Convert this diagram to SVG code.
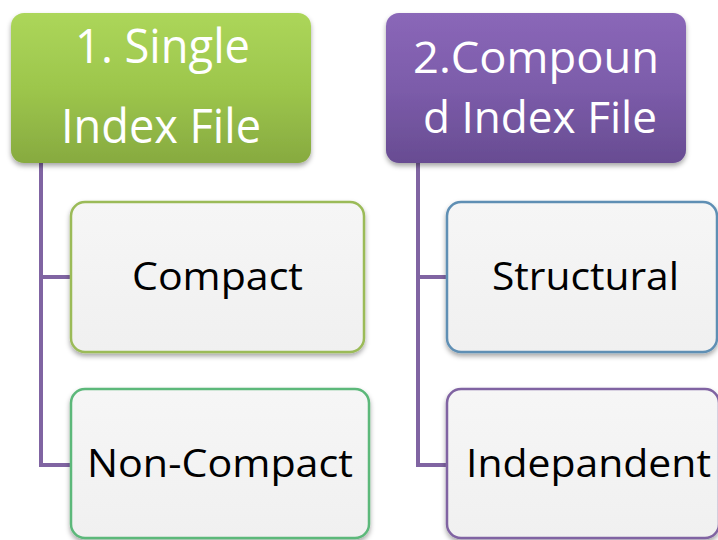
<svg xmlns="http://www.w3.org/2000/svg" width="718" height="540" viewBox="0 0 718 540">
<defs>
<linearGradient id="gGreen" x1="0" y1="0" x2="0" y2="1">
<stop offset="0" stop-color="#acd65a"/>
<stop offset="0.5" stop-color="#9dc64c"/>
<stop offset="1" stop-color="#87aa40"/>
</linearGradient>
<linearGradient id="gPurple" x1="0" y1="0" x2="0" y2="1">
<stop offset="0" stop-color="#8a67b8"/>
<stop offset="0.5" stop-color="#7c5caa"/>
<stop offset="1" stop-color="#684c92"/>
</linearGradient>
<linearGradient id="gChild" x1="0" y1="0" x2="0" y2="1">
<stop offset="0" stop-color="#f6f6f6"/>
<stop offset="1" stop-color="#f0f0f0"/>
</linearGradient>
<filter id="sh" x="-10%" y="-10%" width="120%" height="130%">
<feDropShadow dx="0" dy="3" stdDeviation="2.5" flood-color="#000" flood-opacity="0.35"/>
</filter>
</defs>
<style>
.head{font-family:"Open Sans","Noto Sans",sans-serif;fill:#ffffff;}
.child{font-family:"Open Sans","Noto Sans",sans-serif;fill:#000000;font-size:39px;}
.conn{fill:none;stroke:#8064a2;stroke-width:4;}
.box{fill:url(#gChild);stroke-width:2.5;filter:url(#sh);}
</style>
<g id="connectors">
<polyline class="conn" points="71,277 41,277"/>
<polyline class="conn" points="41,163 41,465 71,465"/>
<polyline class="conn" points="447,277 418,277"/>
<polyline class="conn" points="418,163 418,465 447,465"/>
</g>
<g id="node-single">
<rect x="11" y="13" width="300" height="150" rx="13" fill="url(#gGreen)" filter="url(#sh)"/>
<text class="head" x="75" y="63" font-size="48" textLength="175" lengthAdjust="spacingAndGlyphs">1. Single</text>
<text class="head" x="61" y="143" font-size="48" textLength="200" lengthAdjust="spacingAndGlyphs">Index File</text>
</g>
<g id="node-compound">
<rect x="386" y="13" width="300" height="150" rx="13" fill="url(#gPurple)" filter="url(#sh)"/>
<text class="head" x="413" y="73" font-size="44" textLength="246" lengthAdjust="spacingAndGlyphs">2.Compoun</text>
<text class="head" x="423" y="133" font-size="44" textLength="234" lengthAdjust="spacingAndGlyphs">d Index File</text>
</g>
<g id="node-compact">
<rect class="box" x="71" y="202" width="293" height="150" rx="14" stroke="#9bbb59"/>
<text class="child" x="132" y="290" textLength="171" lengthAdjust="spacingAndGlyphs">Compact</text>
</g>
<g id="node-noncompact">
<rect class="box" x="71" y="389" width="298" height="149" rx="14" stroke="#5cb87a"/>
<text class="child" x="87" y="477" textLength="266" lengthAdjust="spacingAndGlyphs">Non-Compact</text>
</g>
<g id="node-structural">
<rect class="box" x="447" y="202" width="270" height="150" rx="14" stroke="#5f8fb4"/>
<text class="child" x="492" y="290" textLength="187" lengthAdjust="spacingAndGlyphs">Structural</text>
</g>
<g id="node-independent">
<rect class="box" x="447" y="389" width="272" height="149" rx="14" stroke="#8064a2"/>
<text class="child" x="466" y="477" textLength="245" lengthAdjust="spacingAndGlyphs">Indepandent</text>
</g>
</svg>
